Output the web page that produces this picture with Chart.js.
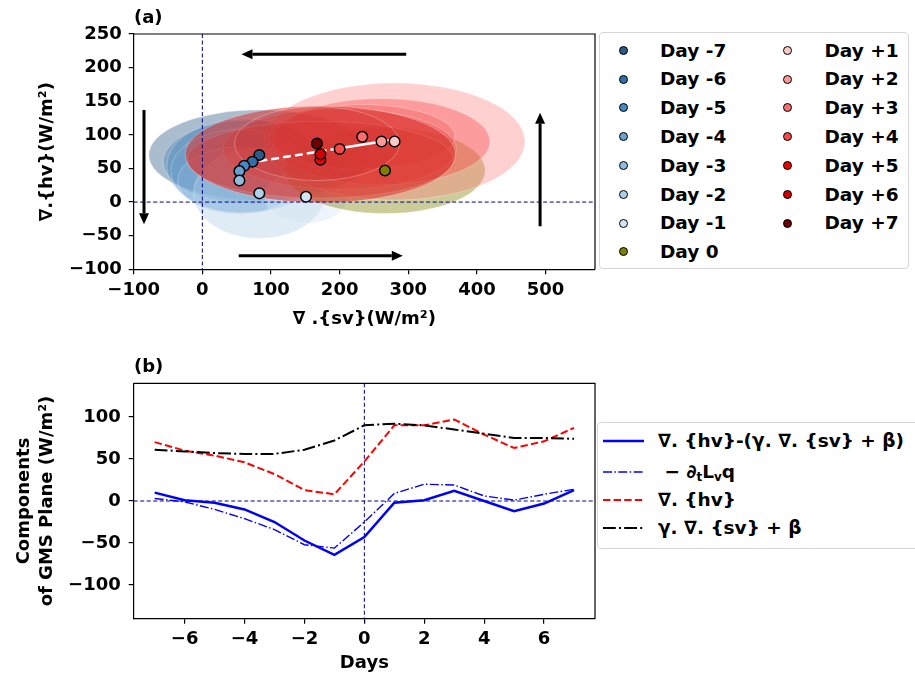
<!DOCTYPE html>
<html>
<head>
<meta charset="utf-8">
<script src="https://cdn.jsdelivr.net/npm/chart.js@4.4.0/dist/chart.umd.min.js"></script>
<style>
    body { margin: 0; background: #fff; }
    #page { position: relative; width: 915px; height: 678px; overflow: hidden; font-family: 'DejaVu Sans', sans-serif; color: #000; }
    .panel { position: absolute; left: 0; width: 915px; }
    .tag { position: absolute; left: 134px; font-weight: bold; font-size: 18px; line-height: 20px; }
    .legend { position: absolute; background: #fff; border: 1px solid #d6d6d6; border-radius: 4px; font-weight: bold; font-size: 18.5px; }
    .legend .item { position: absolute; white-space: nowrap; line-height: 22px; }
    .legend .dot { position: absolute; width: 7px; height: 7px; border: 1.2px solid #000; border-radius: 50%; }
    .legend sub { font-size: 12px; vertical-align: -3px; }
</style>
</head>
<body>
<div id="page">
    <div class="panel" style="top:0;height:335px"><canvas id="gmsPlane"></canvas></div>
    <div class="panel" style="top:340px;height:338px"><canvas id="gmsComponents"></canvas></div>
    <div class="tag" style="top:7px">(a)</div>
    <div class="tag" style="top:356px">(b)</div>
    <div class="legend" id="dayLegend" style="left:599px;top:32px;width:308px;height:235px"></div>
    <div class="legend" id="termLegend" style="left:597px;top:422px;width:340px;height:125px"></div>
</div>

<script>
// composite days relative to onset
const days = [-7, -6, -5, -4, -3, -2, -1, 0, 1, 2, 3, 4, 5, 6, 7];
const dayLabels = ['Day -7', 'Day -6', 'Day -5', 'Day -4', 'Day -3', 'Day -2', 'Day -1', 'Day 0',
    'Day +1', 'Day +2', 'Day +3', 'Day +4', 'Day +5', 'Day +6', 'Day +7'];

// mean divergence of dry static energy and moist static energy flux (W/m2)
const svDiv = [83, 73, 61, 54, 54, 83, 151, 266, 280, 261, 233, 200, 172, 172, 167];
const hvDiv = [70, 60, 54, 46, 32, 13, 8, 47, 90, 90, 97, 79, 63, 71, 87];
// one standard deviation of each day
const svSpread = [161, 130, 113, 100, 90, 96, 60, 146, 190, 158, 135, 170, 194, 197, 120];
const hvSpread = [67, 62, 70, 62, 50, 67, 40, 64, 87, 64, 48, 60, 57, 72, 55];

// GMS plane fit gamma*div(sv) + beta
const fitSv = [83, 200, 280];
const fitHv = [61, 80, 93];

// panel (b) series
const residual = [10, 1, -2, -10, -25, -47, -64, -43, -2, 1, 12, 0, -12, -3, 13];
const storage = [3, -1, -10, -21, -34, -52, -56, -25, 9, 20, 19, 6, 1, 8, 14];
const gmsFit = [61, 59, 57, 56, 56, 61, 72, 90, 92, 90, 85, 80, 75, 75, 74];

// cycle arrows in data units: [x0, y0, x1, y1]
const arrows = [
    [297, 220, 57, 220],
    [53, -80, 292, -80],
    [-85, 137, -85, -33],
    [492, -36, 492, 133]
];

const dayColors = ['#2b5b88', '#336fa6', '#4289c6', '#6aa0d0', '#8fbbdd', '#aecfe8', '#d3e4f3', '#808000',
    '#fcc9c6', '#fb9a97', '#fa6e6e', '#f64848', '#ec0000', '#d40000', '#700000'];
const ellipseFill = [
    'rgba(43,91,136,0.4)', 'rgba(51,111,166,0.3)', 'rgba(66,137,198,0.3)', 'rgba(106,160,208,0.3)',
    'rgba(143,187,221,0.3)', 'rgba(174,207,232,0.4)', 'rgba(211,228,243,0.4)',
    'rgba(128,128,0,0.4)',
    'rgba(255,120,120,0.35)', 'rgba(250,60,60,0.35)', 'rgba(235,60,60,0.25)', 'rgba(225,60,55,0.3)',
    'rgba(220,50,45,0.35)', 'rgba(218,52,48,0.55)', 'rgba(200,40,40,0.2)'
];

Chart.defaults.font.family = "'DejaVu Sans', sans-serif";
Chart.defaults.font.size = 18;
Chart.defaults.font.weight = 'bold';
Chart.defaults.color = '#000';

const minusSign = v => String(v).replace('-', '\u2212');

function axisStyle() {
    return {
        grid: { drawOnChartArea: false, drawTicks: true, tickLength: 5, color: '#000', lineWidth: 1.2 },
        border: { display: true, color: '#000', width: 1.2 }
    };
}

function drawZeroLines(chart) {
    const { ctx, chartArea: a, scales: { x, y } } = chart;
    const x0 = x.getPixelForValue(0);
    const y0 = y.getPixelForValue(0);
    ctx.save();
    ctx.strokeStyle = '#000080';
    ctx.lineWidth = 1;
    ctx.setLineDash([4, 2.5]);
    ctx.beginPath();
    ctx.moveTo(x0, a.top);
    ctx.lineTo(x0, a.bottom);
    ctx.moveTo(a.left, y0);
    ctx.lineTo(a.right, y0);
    ctx.stroke();
    ctx.restore();
}

const framePlugin = {
    id: 'frame',
    afterDraw(chart) {
        const { ctx, chartArea: a } = chart;
        ctx.save();
        ctx.strokeStyle = '#000';
        ctx.lineWidth = 1.2;
        ctx.beginPath();
        ctx.moveTo(a.left, a.top);
        ctx.lineTo(a.right, a.top);
        ctx.lineTo(a.right, a.bottom);
        ctx.stroke();
        ctx.restore();
    }
};

const ellipsePlugin = {
    id: 'ellipses',
    beforeDatasetsDraw(chart) {
        const { ctx, chartArea: a, scales: { x, y } } = chart;
        ctx.save();
        ctx.beginPath();
        ctx.rect(a.left, a.top, a.width, a.height);
        ctx.clip();
        svDiv.forEach(function(sv, i) {
            const cx = x.getPixelForValue(sv);
            const cy = y.getPixelForValue(hvDiv[i]);
            const rx = x.getPixelForValue(sv + svSpread[i]) - cx;
            const ry = cy - y.getPixelForValue(hvDiv[i] + hvSpread[i]);
            ctx.beginPath();
            ctx.ellipse(cx, cy, rx, ry, 0, 0, Math.PI * 2);
            ctx.fillStyle = ellipseFill[i];
            ctx.fill();
            ctx.strokeStyle = 'rgba(255,255,255,0.35)';
            ctx.lineWidth = 0.8;
            ctx.stroke();
        });
        ctx.restore();
        drawZeroLines(chart);
    },
    afterDatasetsDraw(chart) {
        const { ctx, scales: { x, y } } = chart;
        ctx.save();
        ctx.fillStyle = '#000';
        ctx.strokeStyle = '#000';
        ctx.lineWidth = 3;
        arrows.forEach(function(a) {
            const px0 = x.getPixelForValue(a[0]), py0 = y.getPixelForValue(a[1]);
            const px1 = x.getPixelForValue(a[2]), py1 = y.getPixelForValue(a[3]);
            const ang = Math.atan2(py1 - py0, px1 - px0);
            const headLen = 11, headHalf = 5;
            const bx = px1 - headLen * Math.cos(ang), by = py1 - headLen * Math.sin(ang);
            ctx.beginPath();
            ctx.moveTo(px0, py0);
            ctx.lineTo(bx, by);
            ctx.stroke();
            ctx.beginPath();
            ctx.moveTo(px1, py1);
            ctx.lineTo(bx - headHalf * Math.sin(ang), by + headHalf * Math.cos(ang));
            ctx.lineTo(bx + headHalf * Math.sin(ang), by - headHalf * Math.cos(ang));
            ctx.closePath();
            ctx.fill();
        });
        ctx.restore();
    }
};

const zeroLinePlugin = {
    id: 'zeroLines',
    beforeDatasetsDraw(chart) { drawZeroLines(chart); }
};

// panel (a): GMS plane scatter
const dayDatasets = dayLabels.map(function(label, i) {
    return {
        label: label,
        data: [{ x: svDiv[i], y: hvDiv[i] }],
        backgroundColor: dayColors[i],
        borderColor: '#000',
        borderWidth: 1.5,
        pointRadius: 5.3,
        order: dayLabels.length - i
    };
});
dayDatasets.push({
    type: 'line',
    label: 'fit',
    data: fitSv.map((sv, i) => ({ x: sv, y: fitHv[i] })),
    borderColor: '#fff',
    borderWidth: 2.5,
    pointRadius: 0,
    segment: { borderDash: ctx => ctx.p0DataIndex === 0 ? [8, 4] : [] },
    order: 100
});

new Chart(document.getElementById('gmsPlane'), {
    type: 'scatter',
    data: { datasets: dayDatasets },
    options: {
        responsive: true,
        maintainAspectRatio: false,
        animation: false,
        devicePixelRatio: 1,
        layout: { padding: { left: 0, top: 34, right: 320, bottom: 0 } },
        plugins: { legend: { display: false }, tooltip: { enabled: false } },
        scales: {
            x: Object.assign(axisStyle(), {
                type: 'linear', min: -100, max: 572,
                ticks: { stepSize: 100, includeBounds: false, padding: 5, callback: minusSign },
                title: { display: true, text: '\u2207 .{sv}(W/m\u00b2)', padding: { top: 0, bottom: 5 } },
                afterFit: s => { s.height = 65.7; }
            }),
            y: Object.assign(axisStyle(), {
                min: -100, max: 250,
                ticks: { stepSize: 50, includeBounds: false, padding: 7, callback: minusSign },
                title: { display: true, text: '\u2207.{hv}(W/m\u00b2)', padding: { top: 37, bottom: 0 } },
                afterFit: s => { s.width = 133.7; }
            })
        }
    },
    plugins: [ellipsePlugin, framePlugin]
});

// panel (b): components of the GMS plane
const termLabels = ['\u2207. {hv}-(\u03b3. \u2207. {sv} + \u03b2)', '\u2212 \u2202tLvq', '\u2207. {hv}', '\u03b3. \u2207. {sv} + \u03b2'];
const termSeries = [residual, storage, hvDiv, gmsFit];
const termStyles = [
    { color: '#0000ff', width: 2.5, dash: [] },
    { color: '#0000ff', width: 1.4, dash: [9, 2.4, 1.5, 2.4] },
    { color: '#ff0000', width: 2, dash: [7.4, 3.2] },
    { color: '#000000', width: 2, dash: [12.8, 3.2, 2, 3.2] }
];

new Chart(document.getElementById('gmsComponents'), {
    type: 'line',
    data: {
        datasets: termSeries.map(function(series, k) {
            return {
                label: termLabels[k],
                data: days.map((d, i) => ({ x: d, y: series[i] })),
                borderColor: termStyles[k].color,
                borderWidth: termStyles[k].width,
                borderDash: termStyles[k].dash,
                pointRadius: 0,
                tension: 0,
                fill: false,
                order: 4 - k
            };
        })
    },
    options: {
        responsive: true,
        maintainAspectRatio: false,
        animation: false,
        devicePixelRatio: 1,
        layout: { padding: { left: 0, top: 43.3, right: 320, bottom: 0 } },
        plugins: { legend: { display: false }, tooltip: { enabled: false } },
        scales: {
            x: Object.assign(axisStyle(), {
                type: 'linear', min: -7.7, max: 7.7,
                ticks: { stepSize: 2, includeBounds: false, padding: 5, callback: minusSign },
                title: { display: true, text: 'Days', padding: { top: 0, bottom: 4 } },
                afterFit: s => { s.height = 59.3; }
            }),
            y: Object.assign(axisStyle(), {
                min: -140, max: 140,
                ticks: { stepSize: 50, includeBounds: false, padding: 8, callback: minusSign },
                title: {
                    display: true,
                    text: ['Components', 'of GMS Plane (W/m\u00b2)'],
                    font: { lineHeight: 1.3 },
                    padding: { top: 12.5, bottom: 0 }
                },
                afterFit: s => { s.width = 133.7; }
            })
        }
    },
    plugins: [zeroLinePlugin, framePlugin]
});

// legends
const dayLegend = document.getElementById('dayLegend');
dayLabels.forEach(function(label, i) {
    const col = i < 8 ? 0 : 1;
    const row = i < 8 ? i : i - 8;
    const cy = 17.5 + row * 28.8;
    const dot = document.createElement('div');
    dot.className = 'dot';
    dot.style.left = (col ? 183 : 19) + 'px';
    dot.style.top = (cy - 4.7) + 'px';
    dot.style.background = dayColors[i];
    dayLegend.appendChild(dot);
    const text = document.createElement('div');
    text.className = 'item';
    text.style.left = (col ? 224.5 : 60) + 'px';
    text.style.top = (cy - 11) + 'px';
    text.textContent = label;
    dayLegend.appendChild(text);
});

const termLegend = document.getElementById('termLegend');
const termHtml = [
    '\u2207. {hv}-(\u03b3. \u2207. {sv} + \u03b2)',
    '&nbsp;\u2212 \u2202<sub>t</sub>L<sub>v</sub>q',
    '\u2207. {hv}',
    '\u03b3. \u2207. {sv} + \u03b2'
];
const termRows = [18, 49, 77.3, 105.3];
termHtml.forEach(function(html, k) {
    const st = termStyles[k];
    const svg = document.createElementNS('http://www.w3.org/2000/svg', 'svg');
    svg.setAttribute('width', '42');
    svg.setAttribute('height', '6');
    svg.style.position = 'absolute';
    svg.style.left = '5px';
    svg.style.top = (termRows[k] - 3) + 'px';
    const line = document.createElementNS('http://www.w3.org/2000/svg', 'line');
    line.setAttribute('x1', '0');
    line.setAttribute('y1', '3');
    line.setAttribute('x2', '41');
    line.setAttribute('y2', '3');
    line.setAttribute('stroke', st.color);
    line.setAttribute('stroke-width', String(st.width));
    if (st.dash.length) line.setAttribute('stroke-dasharray', st.dash.join(' '));
    svg.appendChild(line);
    termLegend.appendChild(svg);
    const text = document.createElement('div');
    text.className = 'item';
    text.style.left = '60px';
    text.style.top = (termRows[k] - 11) + 'px';
    text.innerHTML = html;
    termLegend.appendChild(text);
});
</script>
</body>
</html>
